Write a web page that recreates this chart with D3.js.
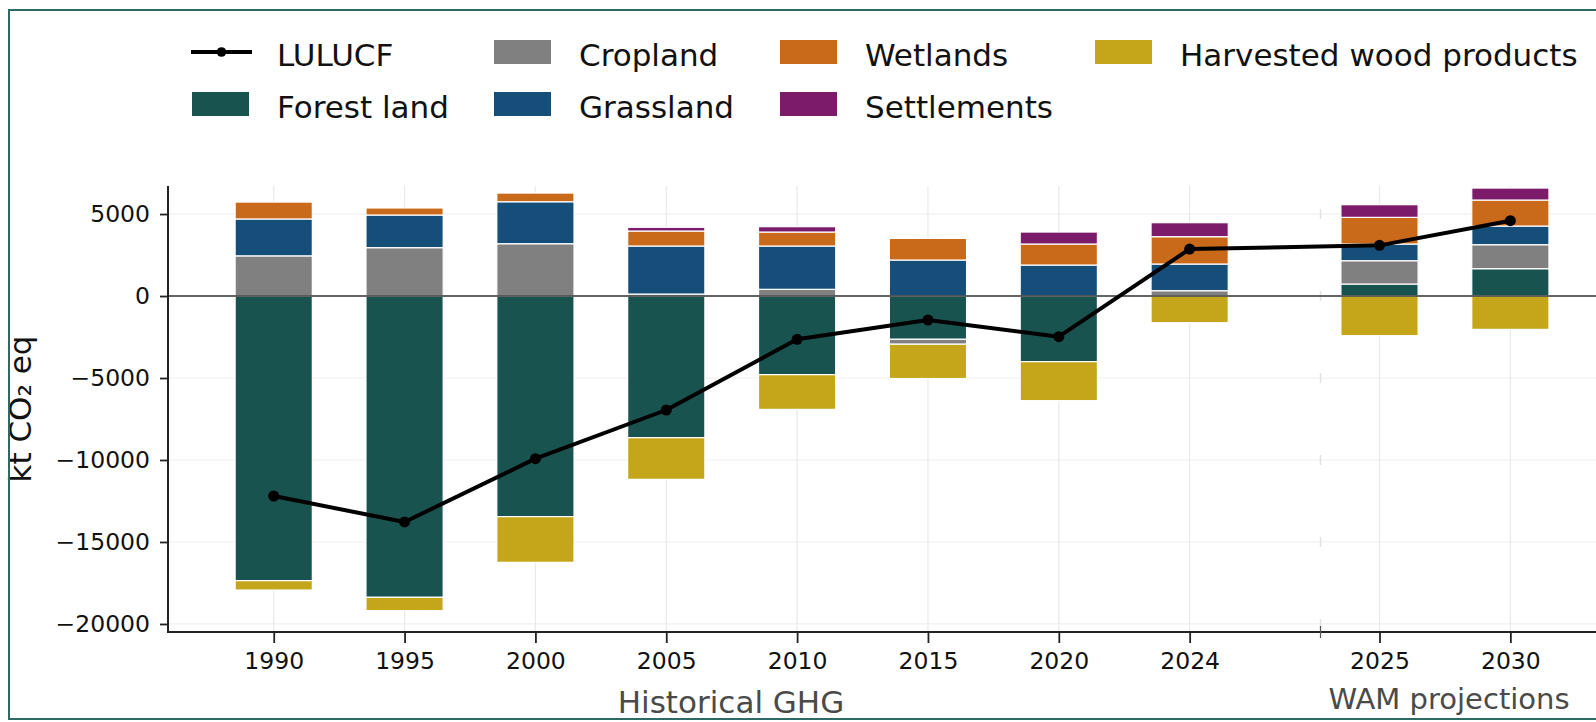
<!DOCTYPE html>
<html>
<head>
<meta charset="utf-8">
<script src="https://cdn.jsdelivr.net/npm/d3@7/dist/d3.min.js"></script>
<style>
  html, body { margin: 0; padding: 0; background: #fff; }
  svg { display: block; font-family: "DejaVu Sans", sans-serif; }
</style>
</head>
<body>
<svg id="chart" width="1596" height="722"></svg>
<script>
// ---------- DATA ----------
const histYears = ["1990", "1995", "2000", "2005", "2010", "2015", "2020", "2024"];
const projYears = ["2025", "2030"];
const years = histYears.concat(projYears);

const forestLand  = [-17360, -18375, -13455, -8640, -4797, -2640, -4004, 0, 732, 1667];
const cropland    = [2450, 2950, 3190, 120, 408, -300, 0, 325, 1422, 1463];
const grassland   = [2250, 1990, 2560, 2930, 2641, 2195, 1890, 1626, 1017, 1138];
const wetlands    = [1030, 430, 530, 914, 853, 1321, 1281, 1667, 1626, 1586];
const settlements = [0, 0, 0, 226, 326, 0, 731, 854, 773, 731];
const hwp         = [-570, -810, -2785, -2540, -2114, -2090, -2378, -1626, -2419, -2033];
const lulucf      = [-12195, -13780, -9919, -6951, -2642, -1463, -2480, 2866, 3089, 4594];

const seriesNames = ["Forest land", "Cropland", "Grassland", "Wetlands", "Settlements", "Harvested wood products"];
const seriesColors = ["#18534f", "#808080", "#154e79", "#c96a1b", "#7b1b6a", "#c5a519"];
const yTickValues = [5000, 0, -5000, -10000, -15000, -20000];
const groupLabels = ["Historical GHG", "WAM projections"];

// ---------- LAYOUT ----------
const svg = d3.select("#chart");
const W = 1596, H = 722;
const axLeft = 168, axTop = 186, axBottom = 632, splitX = 1320.5;
const unit = (splitX - axLeft) / 8.808;
const barW = 0.59 * unit;

const y = d3.scaleLinear().domain([-20490, 6710]).range([axBottom, axTop]);
const xHist = d3.scaleLinear().domain([-0.808, 8]).range([axLeft, splitX]);
const xProj = d3.scaleLinear().domain([-0.451, -0.451 + (W - splitX) / unit]).range([splitX, W]);
const xPos = i => i < histYears.length ? xHist(i) : xProj(i - histYears.length);

// rows for stacking
const rows = years.map((yr, i) => ({
  year: yr,
  "Forest land": forestLand[i],
  "Cropland": cropland[i],
  "Grassland": grassland[i],
  "Wetlands": wetlands[i],
  "Settlements": settlements[i],
  "Harvested wood products": hwp[i]
}));
const stack = d3.stack().keys(seriesNames).offset(d3.stackOffsetDiverging);
const stacked = stack(rows);
const color = d3.scaleOrdinal().domain(seriesNames).range(seriesColors);

// ---------- GRID ----------
const grid = svg.append("g");
grid.selectAll("line.h").data(yTickValues).join("line")
  .attr("x1", axLeft).attr("x2", W)
  .attr("y1", d => y(d)).attr("y2", d => y(d))
  .attr("stroke", "#efefef").attr("stroke-width", 1.2);
grid.selectAll("line.v").data(years).join("line")
  .attr("x1", (d, i) => xPos(i)).attr("x2", (d, i) => xPos(i))
  .attr("y1", axTop).attr("y2", axBottom)
  .attr("stroke", "#e9e9e9").attr("stroke-width", 1.2);
// small marks of second panel's y ticks at the split
grid.selectAll("line.s").data(yTickValues).join("line")
  .attr("x1", splitX).attr("x2", splitX)
  .attr("y1", d => y(d) - 5).attr("y2", d => y(d) + 5)
  .attr("stroke", "#e2e2e2").attr("stroke-width", 1.5);

// ---------- BARS ----------
const bars = svg.append("g");
stacked.forEach(s => {
  bars.append("g").attr("fill", color(s.key))
    .selectAll("rect").data(s).join("rect")
    .attr("x", (d, i) => xPos(i) - barW / 2)
    .attr("width", barW)
    .attr("y", d => y(Math.max(d[0], d[1])))
    .attr("height", d => Math.abs(y(d[0]) - y(d[1])))
    .attr("stroke", d => Math.abs(d[1] - d[0]) > 0 ? "#ffffff" : "none")
    .attr("stroke-width", 1.2);
});

// zero line
svg.append("line")
  .attr("x1", axLeft).attr("x2", W)
  .attr("y1", y(0)).attr("y2", y(0))
  .attr("stroke", "#333").attr("stroke-width", 1.6);

// ---------- LULUCF LINE ----------
const lineGen = d3.line().x((d, i) => xPos(i)).y(d => y(d));
svg.append("path").datum(lulucf)
  .attr("d", lineGen)
  .attr("fill", "none").attr("stroke", "#000").attr("stroke-width", 4)
  .attr("stroke-linejoin", "round");
svg.append("g").selectAll("circle").data(lulucf).join("circle")
  .attr("cx", (d, i) => xPos(i)).attr("cy", d => y(d)).attr("r", 5.5)
  .attr("fill", "#000");

// ---------- AXES ----------
const yAxis = d3.axisLeft(y).tickValues(yTickValues).tickSize(8).tickPadding(10)
  .tickFormat(d3.format("d"));
const gy = svg.append("g").attr("transform", `translate(${axLeft},0)`).call(yAxis);
gy.select(".domain").remove();
gy.selectAll(".tick line").attr("stroke", "#222").attr("stroke-width", 1.8);
gy.selectAll(".tick text").attr("font-size", 23.5).attr("fill", "#111")
  .attr("font-family", "DejaVu Sans");
svg.append("line")
  .attr("x1", axLeft).attr("x2", axLeft).attr("y1", axTop).attr("y2", axBottom + 1)
  .attr("stroke", "#222").attr("stroke-width", 2);

const xAxisH = d3.axisBottom(xHist).tickValues(d3.range(histYears.length))
  .tickFormat(i => histYears[i]).tickSize(11).tickPadding(9);
const xAxisP = d3.axisBottom(xProj).tickValues(d3.range(projYears.length))
  .tickFormat(i => projYears[i]).tickSize(11).tickPadding(9);
[xAxisH, xAxisP].forEach(ax => {
  const g = svg.append("g").attr("transform", `translate(0,${axBottom})`).call(ax);
  g.select(".domain").remove();
  g.selectAll(".tick line").attr("stroke", "#222").attr("stroke-width", 1.8);
  g.selectAll(".tick text").attr("font-size", 23.5).attr("fill", "#111")
    .attr("font-family", "DejaVu Sans");
});
svg.append("line")
  .attr("x1", axLeft - 1).attr("x2", W).attr("y1", axBottom).attr("y2", axBottom)
  .attr("stroke", "#222").attr("stroke-width", 2);
// split tick
svg.append("line")
  .attr("x1", splitX).attr("x2", splitX).attr("y1", axBottom - 6).attr("y2", axBottom + 6)
  .attr("stroke", "#555").attr("stroke-width", 1.2);

// y label
svg.append("text")
  .attr("transform", `translate(31,${(axTop + axBottom) / 2}) rotate(-90)`)
  .attr("text-anchor", "middle")
  .attr("font-size", 31).attr("fill", "#111")
  .text("kt CO\u2082 eq");

// group labels
svg.append("text").attr("x", 731).attr("y", 713).attr("text-anchor", "middle")
  .attr("font-size", 31).attr("fill", "#4a4a4a").text(groupLabels[0]);
svg.append("text").attr("x", 1449).attr("y", 709).attr("text-anchor", "middle")
  .attr("font-size", 29).attr("fill", "#4a4a4a").text(groupLabels[1]);

// ---------- LEGEND ----------
const legendItems = [
  { name: "LULUCF", type: "line", col: 0, row: 0 },
  { name: "Forest land", type: "rect", col: 0, row: 1 },
  { name: "Cropland", type: "rect", col: 1, row: 0 },
  { name: "Grassland", type: "rect", col: 1, row: 1 },
  { name: "Wetlands", type: "rect", col: 2, row: 0 },
  { name: "Settlements", type: "rect", col: 2, row: 1 },
  { name: "Harvested wood products", type: "rect", col: 3, row: 0 }
];
const colX = [192, 494, 780, 1095];
const rowY = [52, 104];
const lg = svg.append("g");
legendItems.forEach(it => {
  const x0 = colX[it.col], cy = rowY[it.row];
  if (it.type === "line") {
    lg.append("line").attr("x1", x0 - 1).attr("x2", x0 + 60).attr("y1", cy).attr("y2", cy)
      .attr("stroke", "#000").attr("stroke-width", 3.8);
    lg.append("circle").attr("cx", x0 + 29.5).attr("cy", cy).attr("r", 4.8).attr("fill", "#000");
  } else {
    lg.append("rect").attr("x", x0).attr("y", cy - 12).attr("width", 57).attr("height", 24)
      .attr("fill", color(it.name));
  }
  lg.append("text").attr("x", x0 + 85).attr("y", cy + 13.5)
    .attr("font-size", 31).attr("fill", "#111").text(it.name);
});

// ---------- FRAME ----------
svg.append("rect").attr("x", 9).attr("y", 10).attr("width", W + 20).attr("height", 709)
  .attr("fill", "none").attr("stroke", "#2d6a66").attr("stroke-width", 2);
</script>
</body>
</html>
